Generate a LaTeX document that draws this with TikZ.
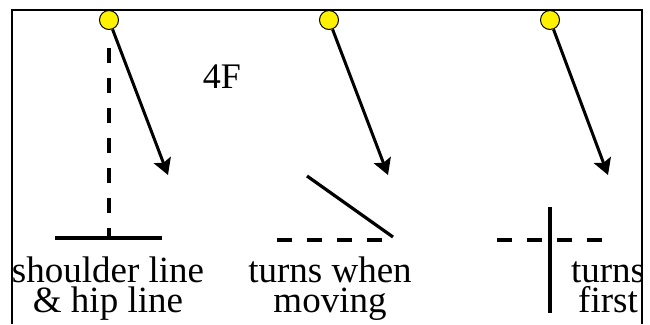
\documentclass[tikz,border=0pt]{standalone}
\usepackage{fontspec}
\setmainfont{Liberation Serif}
\usetikzlibrary{arrows.meta}
\tikzset{
  ball/.style={circle, draw=black, fill=yellow, line width=1pt, minimum size=19pt, inner sep=0pt},
  swing/.style={-{Stealth[length=16pt,width=18pt,inset=3pt]}, line width=3pt},
  bodyline/.style={line width=3.2pt},
  dashline/.style={line width=3.2pt, dash pattern=on 15pt off 15pt},
  caption/.style={font=\fontsize{37}{30}\selectfont, align=center, inner sep=0pt, anchor=base},
}

\begin{document}
\begin{tikzpicture}[x=1pt,y=-1pt]
\useasboundingbox (0,0) rectangle (650,324);

% labels under each figure (anchored at the last line)
\begin{scope}
\clip (13.5,11.5) rectangle (640.5,324);
\node[caption] (capA) at (108,312) {shoulder line\\\& hip line};
\node[caption] (capB) at (330,312) {turns when\\moving};
\node[caption] (capC) at (608,312) {turns\\first};
\end{scope}
\node[font=\fontsize{36}{30}\selectfont, inner sep=0pt, anchor=base] (tag) at (222,88) {4F};

% frame
\draw[line width=2.6pt] (12,324) -- (12,10) -- (642,10) -- (642,324);

% first figure
\coordinate (dropA) at (109,48);
\coordinate (midA) at (109,238);
\coordinate (leftA) at (55,238);
\coordinate (rightA) at (162,238);
\coordinate (tipA) at (168,175);
\draw[dashline] (dropA) -- (midA);
\draw[bodyline] (leftA) -- (rightA);

% second figure
\coordinate (leftB) at (277,240);
\coordinate (rightB) at (385,240);
\coordinate (twistB) at (307,176);
\coordinate (endB) at (393,237);
\coordinate (tipB) at (388,175);
\draw[dashline] (leftB) -- (rightB);
\draw[bodyline] (twistB) -- (endB);

% third figure
\coordinate (leftC) at (497,240);
\coordinate (rightC) at (605,240);
\coordinate (topC) at (550,207);
\coordinate (botC) at (550,313);
\coordinate (tipC) at (608,175);
\draw[dashline] (leftC) -- (rightC);
\draw[bodyline] (topC) -- (botC);

% club heads and swing arrows
\node[ball] (headA) at (109,20) {};
\node[ball] (headB) at (329,20) {};
\node[ball] (headC) at (550,20) {};
\draw[swing] (headA) -- (tipA);
\draw[swing] (headB) -- (tipB);
\draw[swing] (headC) -- (tipC);
\end{tikzpicture}
\end{document}
